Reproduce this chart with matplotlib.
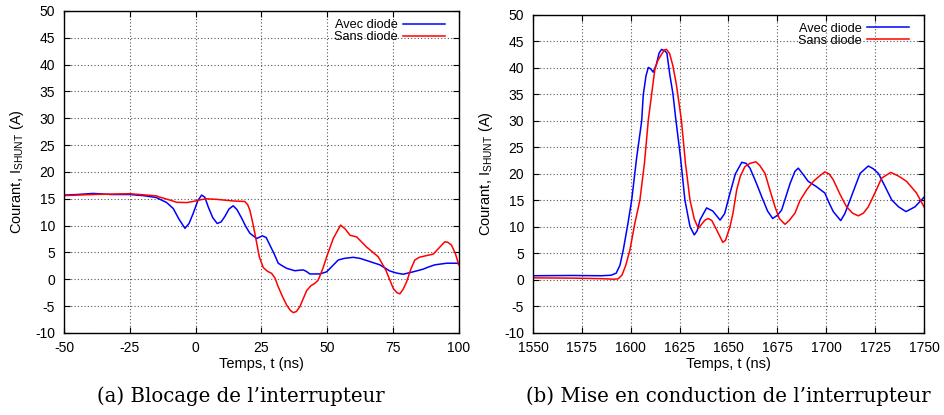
import numpy as np
import matplotlib.pyplot as plt

# (a) Blocage de l'interrupteur
t_a_avec = [-50, -45, -39, -32, -25, -20, -15, -13.5, -11, -8.5, -6.3, -4.05, -2.5, -0.9, 0.8, 2.3,
            3.5, 4.8, 6.5, 8.2, 9.7, 11.1, 12.7, 14.3, 15.7, 17.5, 19, 20.6, 23.2, 25.4, 26.8,
            28.2, 29.8, 31.4, 33, 34.6, 37.7, 39.6, 40.9, 42, 43.4, 44.7, 47.2, 49.8, 52, 54.2,
            56.5, 59.9, 62.5, 65, 70, 73.8, 76.5, 78.9, 82.7, 86.5, 88.5, 90.9, 95.4, 99.2, 100]
i_a_avec = [15.7, 15.8, 16.0, 15.8, 15.8, 15.6, 15.25, 14.9, 14.3, 13.2, 11.2, 9.5, 10.4, 12.3, 14.6, 15.7,
            15.3, 13.5, 11.5, 10.4, 10.7, 11.7, 13.1, 13.7, 13.0, 11.4, 9.9, 8.6, 7.6, 8.1, 7.8,
            6.4, 4.8, 3.0, 2.5, 2.05, 1.6, 1.7, 1.75, 1.5, 1.0, 1.0, 1.0, 1.4, 2.5, 3.6,
            3.9, 4.1, 3.9, 3.5, 2.7, 1.55, 1.15, 0.95, 1.4, 1.9, 2.3, 2.7, 3.0, 3.0, 2.9]

t_a_sans = [-50, -39, -25, -15, -13.5, -10, -7.2, -3.4, -1, 1.65, 4, 8, 14.3, 18.7, 19.8, 20.6,
            21.5, 22.5, 24.2, 25.7, 27.3, 28.9, 30.2, 31.4, 33, 34.6, 36, 37.1, 38.3, 39.6,
            41, 42.2, 43.8, 45.3, 46.5, 47.2, 48.5, 49.8, 52.3, 55.1, 56.8, 58.7, 61.2, 65,
            69.4, 72.3, 75.1, 76.5, 77.6, 78.8, 80.2, 81.7, 83.3, 85, 87.1, 90.3, 92.6, 94.7,
            95.8, 97.2, 98.7, 100]
i_a_sans = [15.6, 15.8, 15.95, 15.55, 15.3, 14.8, 14.35, 14.3, 14.5, 14.8, 15.0, 14.9, 14.6, 14.5, 13.9, 12.9,
            11.0, 8.6, 4.2, 2.2, 1.5, 1.1, 0.2, -1.4, -3.2, -4.8, -5.8, -6.2, -6.0, -5.1,
            -3.5, -2.1, -1.2, -0.75, -0.2, 0.6, 2.2, 4.2, 7.6, 10.1, 9.4, 8.2, 7.9, 6.0,
            4.2, 1.7, -1.7, -2.5, -2.7, -1.9, -0.45, 1.8, 3.6, 4.1, 4.35, 4.7, 5.9, 7.0,
            6.9, 6.4, 4.8, 2.7]

# (b) Mise en conduction de l'interrupteur
t_b_avec = [1550, 1570, 1585, 1590, 1592.6, 1594.5, 1596.2, 1598.5, 1600.5, 1603, 1605.6, 1606.4,
            1607.8, 1609, 1610.3, 1611.5, 1613, 1614.5, 1615.8, 1617.5, 1618.5, 1620, 1621.6,
            1623, 1625.5, 1627.7, 1630.3, 1632.5, 1634, 1635.4, 1638.8, 1642, 1645.7, 1648,
            1650.8, 1653.5, 1656.8, 1659, 1661, 1664, 1667, 1670, 1672.6, 1675, 1677.2, 1681.5,
            1684, 1685.7, 1688, 1690.8, 1695, 1699.3, 1701.5, 1703.6, 1707.4, 1709.5, 1712.2,
            1717.3, 1721.5, 1724, 1726.7, 1730, 1733.5, 1737, 1740.8, 1745.4, 1750]
i_b_avec = [0.8, 0.85, 0.8, 0.9, 1.3, 2.8, 5.7, 10.5, 15.1, 23, 30.0, 34.9,
            38.5, 40.1, 39.8, 39.2, 40.5, 42.8, 43.5, 43.2, 42.8, 38.7, 35.1,
            30.5, 23, 15.1, 10.1, 8.5, 9.3, 11.3, 13.6, 13.0, 11.3, 12.5,
            16.4, 20, 22.2, 22.0, 21.1, 18.5, 15.7, 13.0, 11.6, 12.2, 13.2, 18.2,
            20.5, 21.1, 20, 18.6, 17.6, 16.4, 14.5, 12.9, 11.2, 12.5, 15.1,
            20.1, 21.5, 21.0, 20.1, 17.7, 15.1, 13.8, 12.9, 13.8, 15.6]

t_b_sans = [1550, 1570, 1585, 1591, 1593.5, 1595.5, 1597.5, 1599.6, 1602, 1604.7, 1607, 1609,
            1610.5, 1612.4, 1614, 1615.8, 1617.3, 1618.3, 1619.9, 1621.5, 1623.3, 1625.9, 1628,
            1630.3, 1632.5, 1634.6, 1636, 1638, 1639.7, 1641.5, 1644, 1647.1, 1648.5, 1650.8,
            1652.3, 1654.2, 1656, 1658.4, 1661, 1664, 1666, 1668.7, 1671, 1673.8, 1676, 1678.9,
            1681, 1684, 1686.6, 1690, 1693.4, 1696.5, 1699.3, 1701.5, 1703.6, 1707, 1710.4,
            1713.5, 1716.4, 1719, 1721.5, 1725, 1728.3, 1733, 1737, 1741.1, 1746.2, 1750]
i_b_sans = [0.4, 0.35, 0.25, 0.15, 0.2, 0.9, 2.8, 5.7, 10.5, 15.1, 22, 30.2,
            34.5, 39.9, 41.5, 42.6, 43.4, 43.5, 42.7, 40.5, 37.0, 30.2, 22,
            15.1, 11.5, 9.75, 10.4, 11.3, 11.6, 11.2, 9.4, 7.1, 7.5, 10.1,
            12.6, 17.0, 19.5, 21.4, 22.0, 22.3, 21.6, 20.1, 17.2, 13.8, 11.6, 10.5,
            11.2, 12.6, 15.0, 17.0, 18.6, 19.6, 20.4, 20.0, 18.9, 16.2, 13.8,
            12.6, 12.1, 12.6, 13.8, 16.5, 19.2, 20.3, 19.6, 18.6, 16.4, 13.8]

xticks_a = [-50, -25, 0, 25, 50, 75, 100]
xticks_b = [1550, 1575, 1600, 1625, 1650, 1675, 1700, 1725, 1750]
yticks = list(range(-10, 55, 5))

plt.rcParams['font.family'] = ['Liberation Sans', 'DejaVu Sans']
plt.rcParams['axes.unicode_minus'] = False
fig = plt.figure(figsize=(9.44, 4.15), dpi=100)
ax1 = fig.add_axes([0.0678, 0.1976, 0.4182, 0.776])
ax2 = fig.add_axes([0.5646, 0.1976, 0.4142, 0.7664])

panels = [
    (ax1, t_a_avec, i_a_avec, t_a_sans, i_a_sans, xticks_a, (-50, 100), 0.9646, 0.974),
    (ax2, t_b_avec, i_b_avec, t_b_sans, i_b_sans, xticks_b, (1550, 1750), 0.962, 0.976),
]
for ax, ta, ia, ts, i_s, xt, xl, lx, ly in panels:
    ax.plot(ta, ia, color='#0000ff', lw=1.1, label='Avec diode')
    ax.plot(ts, i_s, color='#ff0000', lw=1.1, label='Sans diode')
    ax.set_xlim(*xl)
    ax.set_ylim(-10, 50)
    ax.set_xticks(xt)
    ax.set_yticks(yticks)
    ax.grid(True, color='#555555', linestyle=(0, (1, 2)), lw=0.8)
    ax.tick_params(direction='in', top=True, right=True, length=4, labelsize=10)
    ax.tick_params(axis='x', pad=5.5)
    ax.tick_params(axis='y', pad=6.5)
    for s in ax.spines.values():
        s.set_linewidth(1.0)
    ax.set_xlabel('Temps, t (ns)', fontsize=10.5)
    ax.set_ylabel('Courant, I$_{\\mathregular{SHUNT}}$ (A)', fontsize=10.5)
    bb = ax.get_window_extent()
    ax.xaxis.set_label_coords(0.5, -24 / bb.height)
    ax.yaxis.set_label_coords(-38 / bb.width, 0.5)
    ax.legend(loc='upper right', bbox_to_anchor=(lx, ly), frameon=False, markerfirst=False,
              fontsize=9.2, handlelength=3.3, handletextpad=0.4, labelspacing=0.0,
              borderaxespad=0, borderpad=0)

fig.text(0.2555, 0.046, "(a) Blocage de l\u2019interrupteur", family='DejaVu Serif',
         fontsize=14.2, ha='center', va='center')
fig.text(0.771, 0.046, "(b) Mise en conduction de l\u2019interrupteur", family='DejaVu Serif',
         fontsize=14.2, ha='center', va='center')

fig.savefig('out.png', dpi=100)
